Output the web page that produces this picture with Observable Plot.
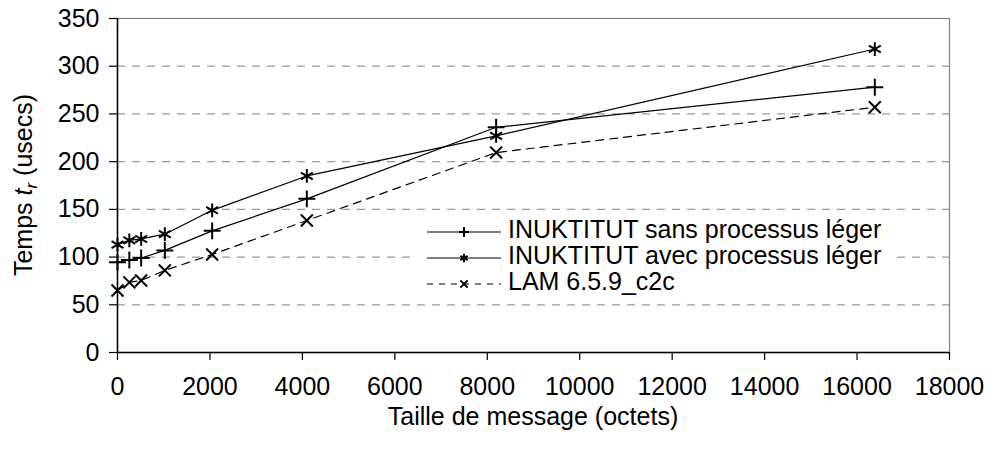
<!DOCTYPE html>
<html>
<head>
<meta charset="utf-8">
<script src="https://cdn.jsdelivr.net/npm/d3@7"></script>
<script src="https://cdn.jsdelivr.net/npm/@observablehq/plot@0.6"></script>
<style>
  html, body { margin: 0; padding: 0; background: #fff; }
  #chart { width: 995px; height: 450px; }
</style>
</head>
<body>
<div id="chart"></div>
<script>
// Message sizes (octets)
const sizes = [0, 256, 512, 1024, 2048, 4096, 8192, 16384];
// Times t_r (usecs)
const sansValues = [94.6, 97, 99, 107, 127.5, 161, 236, 278];
const avecValues = [113, 117.5, 119, 124, 149, 185, 227, 318];
const lamValues  = [65, 73.5, 75.5, 86, 102.7, 138.3, 209.5, 257];

const seriesNames = [
  "INUKTITUT sans processus léger",
  "INUKTITUT avec processus léger",
  "LAM 6.5.9_c2c"
];
const seriesSymbols = ["plus", "asterisk", "times"];
const seriesDash = [null, null, "8,6"];
const seriesR = [5.5, 6.5, 5.5];
const legendSizes = [36, 50, 36];

const xTicks = [0, 2000, 4000, 6000, 8000, 10000, 12000, 14000, 16000, 18000];
const yTicks = [0, 50, 100, 150, 200, 250, 300, 350];

const xTitle = "Taille de message (octets)";

const allValues = [sansValues, avecValues, lamValues];
const rows = [];
allValues.forEach((vals, i) => {
  sizes.forEach((s, j) => rows.push({series: seriesNames[i], size: s, time: vals[j]}));
});

const font = "'Liberation Sans', Arial, sans-serif";

const plot = Plot.plot({
  width: 995,
  height: 450,
  marginTop: 18,
  marginRight: 46,
  marginBottom: 98,
  marginLeft: 117,
  style: {fontFamily: font, fontSize: "25px", color: "#000", background: "#fff", overflow: "visible"},
  x: {domain: [0, 18000]},
  y: {domain: [0, 350]},
  symbol: {domain: seriesNames, range: seriesSymbols},
  marks: [
    Plot.gridY(yTicks.filter(v => v > 0), {stroke: "#999", strokeOpacity: 1, strokeWidth: 1.2, strokeDasharray: "8,7"}),
    Plot.frame({stroke: "#808080", strokeWidth: 1.2}),
    ...seriesNames.map((name, i) => Plot.line(rows.filter(r => r.series === name), {
      x: "size", y: "time", stroke: "#000", strokeWidth: 1.2,
      strokeDasharray: seriesDash[i] || undefined
    })),
    ...seriesNames.map((name, i) => Plot.dot(rows.filter(r => r.series === name), {
      x: "size", y: "time", symbol: "series", stroke: "#000", strokeWidth: 2, r: seriesR[i]
    })),
    Plot.ruleX([0], {stroke: "#000", strokeWidth: 1.5}),
    Plot.ruleY([0], {stroke: "#000", strokeWidth: 1.5}),
    Plot.axisY(yTicks, {tickSize: 8, tickPadding: 10, label: null, fontSize: 25, strokeWidth: 1.2}),
    Plot.axisX(xTicks, {tickSize: 8, tickPadding: 17, label: null, fontSize: 25, tickFormat: "d", strokeWidth: 1.2})
  ]
});

document.getElementById("chart").appendChild(plot);

const svg = d3.select(plot);

// Axis titles
svg.append("text")
  .attr("x", 533).attr("y", 425)
  .attr("text-anchor", "middle")
  .style("font-family", font).style("font-size", "25px").attr("fill", "#000")
  .text(xTitle);

const yTitle = svg.append("text")
  .attr("transform", "translate(32,185) rotate(-90)")
  .attr("text-anchor", "middle")
  .style("font-family", font).style("font-size", "25px").attr("fill", "#000");
yTitle.append("tspan").text("Temps ");
yTitle.append("tspan").attr("font-style", "italic").text("t");
yTitle.append("tspan").attr("font-style", "italic").attr("font-size", "17px").attr("dy", "5").text("r");
yTitle.append("tspan").attr("dy", "-5").text(" (usecs)");

// Legend
const legend = svg.append("g").attr("text-anchor", "start");
legend.append("rect")
  .attr("x", 415).attr("y", 215).attr("width", 482).attr("height", 82)
  .attr("fill", "#fff");
const symbolMap = {plus: d3.symbolPlus, asterisk: d3.symbolAsterisk, times: d3.symbolTimes};
const baselines = [238, 264, 290];
seriesNames.forEach((name, i) => {
  const ly = baselines[i] - 6;
  legend.append("line")
    .attr("x1", 427).attr("x2", 501).attr("y1", ly).attr("y2", ly)
    .attr("stroke", "#000").attr("stroke-width", 1.2)
    .attr("stroke-dasharray", seriesDash[i] ? "6,6" : null);
  legend.append("path")
    .attr("d", d3.symbol(symbolMap[seriesSymbols[i]], legendSizes[i])())
    .attr("transform", `translate(464,${ly})`)
    .attr("fill", "none").attr("stroke", "#000").attr("stroke-width", 2);
  legend.append("text")
    .attr("x", 508).attr("y", baselines[i])
    .attr("text-anchor", "start")
    .style("font-family", font).style("font-size", "25px").attr("fill", "#000")
    .text(name);
});
</script>
</body>
</html>
